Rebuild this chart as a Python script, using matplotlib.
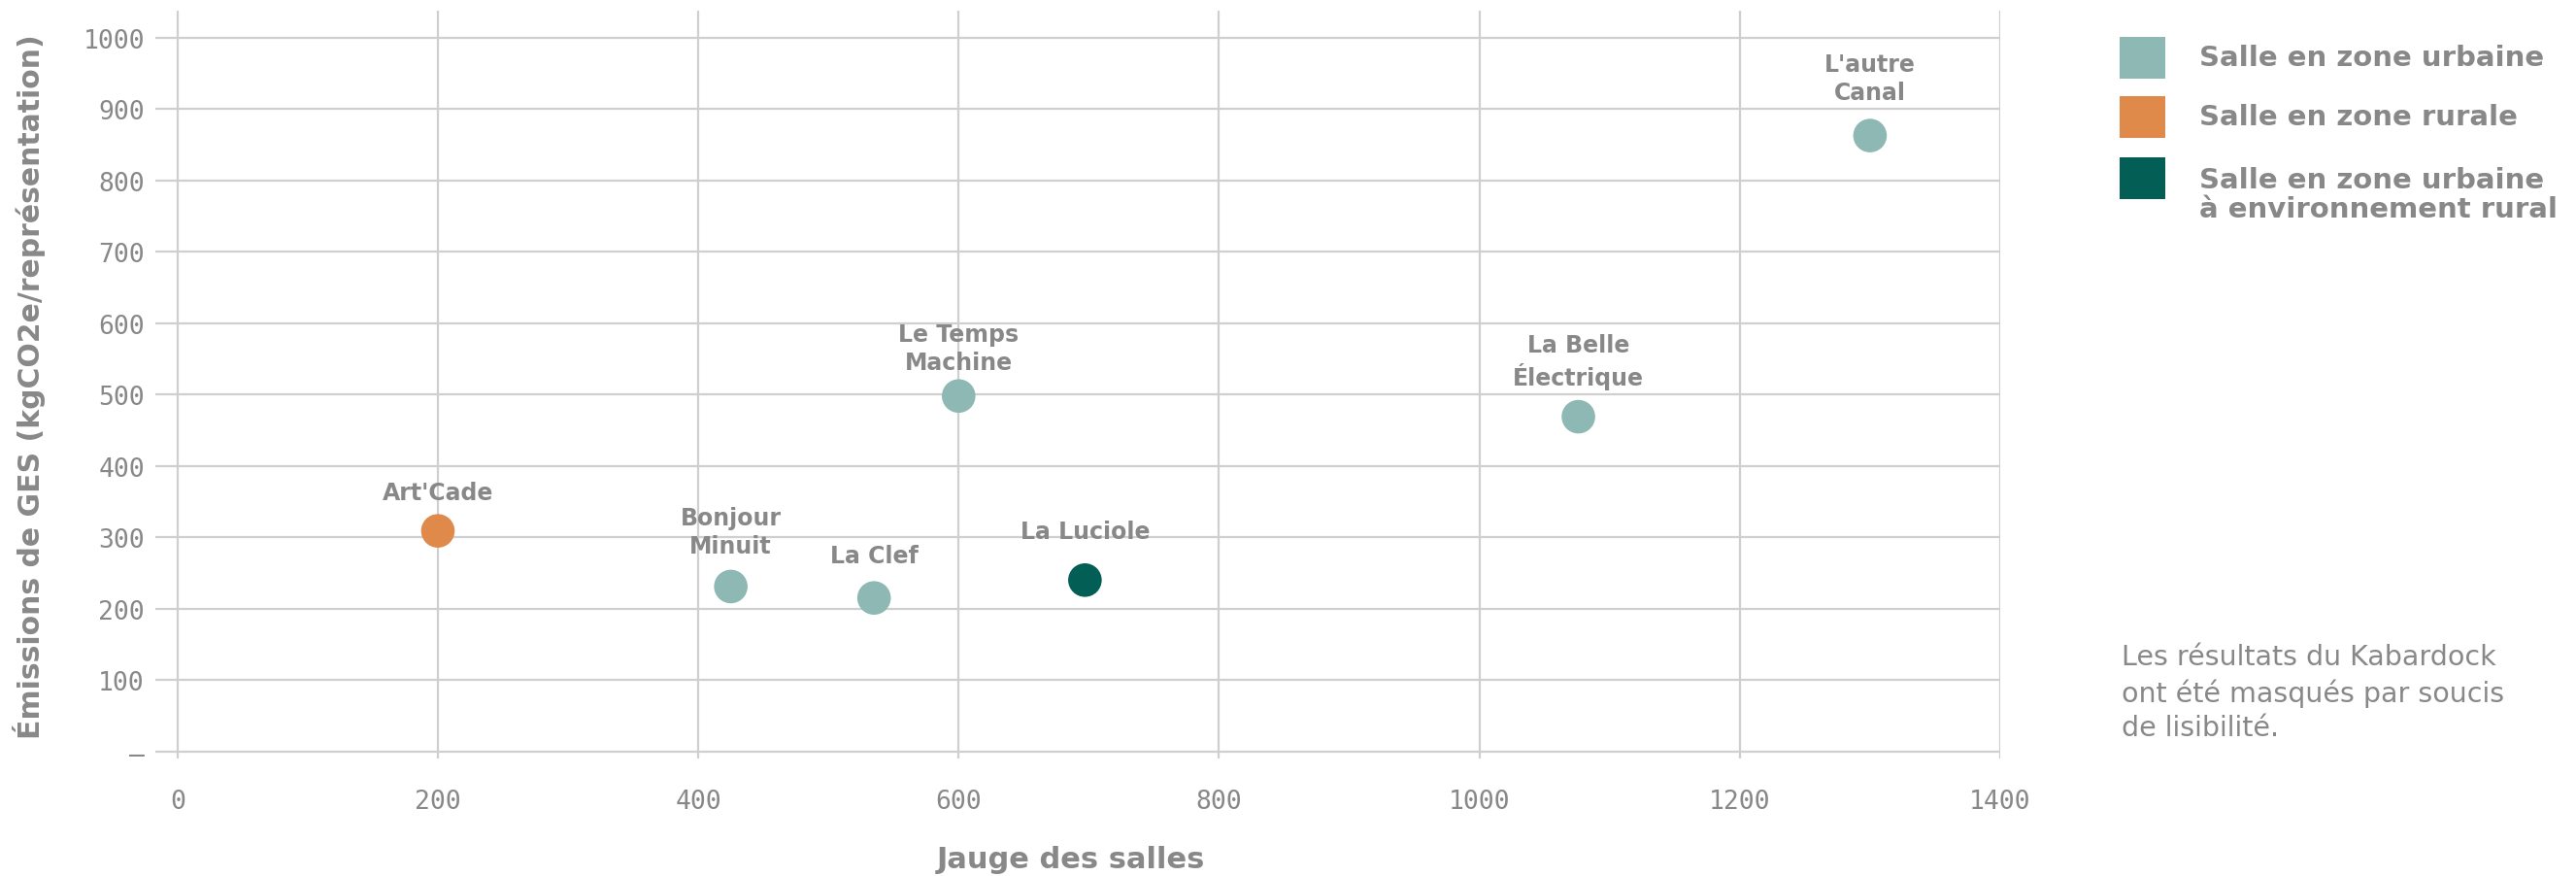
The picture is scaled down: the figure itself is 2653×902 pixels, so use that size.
import matplotlib
matplotlib.use("Agg")
import matplotlib.pyplot as plt
from matplotlib.patches import Rectangle

# ---- data ----
venues = ["Art'Cade", "Bonjour\nMinuit", "La Clef", "Le Temps\nMachine", "La Luciole",
          "La Belle\nÉlectrique", "L'autre\nCanal"]
capacity = [200, 425, 535, 600, 697, 1076, 1300]
emissions = [309, 231, 215, 498, 240, 469, 863]
category = ["rural", "urban", "urban", "urban", "urban_rural", "urban", "urban"]

legend_keys = ["urban", "rural", "urban_rural"]
legend_labels = ["Salle en zone urbaine", "Salle en zone rurale",
                 "Salle en zone urbaine\nà environnement rural"]

x_ticks = [0, 200, 400, 600, 800, 1000, 1200, 1400]
y_ticks = [0, 100, 200, 300, 400, 500, 600, 700, 800, 900, 1000]
y_ticklabels = ["–", "100", "200", "300", "400", "500", "600", "700", "800", "900", "1000"]

x_title = "Jauge des salles"
y_title = "Émissions de GES (kgCO2e/représentation)"
note = "Les résultats du Kabardock\nont été masqués par soucis\nde lisibilité."

# ---- style ----
colors = {"urban": "#8eb8b4", "rural": "#df8a4b", "urban_rural": "#035e55"}
label_offsets_px = [28, 30, 32, 23, 38, 28, 33]
grey = "#888888"
grid = "#cfcfcf"

W, H = 2653, 903
fig = plt.figure(figsize=(W / 100, H / 100), dpi=100)
ax = fig.add_axes([160 / W, 1 - 782 / H, (2060 - 160) / W, (782 - 12) / H])

ax.set_xlim(-17, 1400)
ax.set_ylim(-10, 1038)
for s in ax.spines.values():
    s.set_visible(False)
ax.set_xticks(x_ticks)
ax.set_yticks(y_ticks)
ax.set_yticklabels(y_ticklabels)
ax.tick_params(length=0, colors=grey, labelsize=19)
ax.tick_params(axis="x", pad=22)
ax.tick_params(axis="y", pad=8)
for lab in ax.get_xticklabels() + ax.get_yticklabels():
    lab.set_fontfamily("DejaVu Sans Mono")
ax.grid(True, color=grid, linewidth=1.6)
ax.set_axisbelow(True)

ax.scatter(capacity, emissions, s=620, c=[colors[c] for c in category],
           edgecolors="none", zorder=3)

for name, x, y, off in zip(venues, capacity, emissions, label_offsets_px):
    ax.annotate(name, (x, y), xytext=(0, off * 0.72), textcoords="offset points",
                ha="center", va="bottom", multialignment="center",
                fontsize=17, fontweight="bold", color=grey, linespacing=1.25,
                zorder=4)

fig.text(30 / W, 1 - 398 / H, y_title, rotation=90, ha="center", va="center",
         fontsize=21.5, fontweight="bold", color=grey)
fig.text(1103 / W, 1 - 886 / H, x_title, ha="center", va="center",
         fontsize=22, fontweight="bold", color=grey)

# legend
sq_x, sq_w, sq_h = 2183, 47, 43
rows_center = [60, 121, 184]
leg_line_px = 32
for key, lab, cy in zip(legend_keys, legend_labels, rows_center):
    fig.add_artist(Rectangle((sq_x / W, 1 - (cy + sq_h / 2) / H), sq_w / W, sq_h / H,
                             transform=fig.transFigure, color=colors[key], lw=0))
    nlines = lab.count("\n") + 1
    base = cy + 8 + (nlines - 1) * leg_line_px
    fig.text(2265 / W, 1 - base / H, lab, ha="left", va="baseline",
             fontsize=21, fontweight="bold", color=grey, linespacing=1.1)

fig.text(2185 / W, 1 - 758 / H, note, ha="left", va="baseline", fontsize=20.5,
         color=grey, linespacing=1.33)

fig.savefig("out.png", dpi=100)
